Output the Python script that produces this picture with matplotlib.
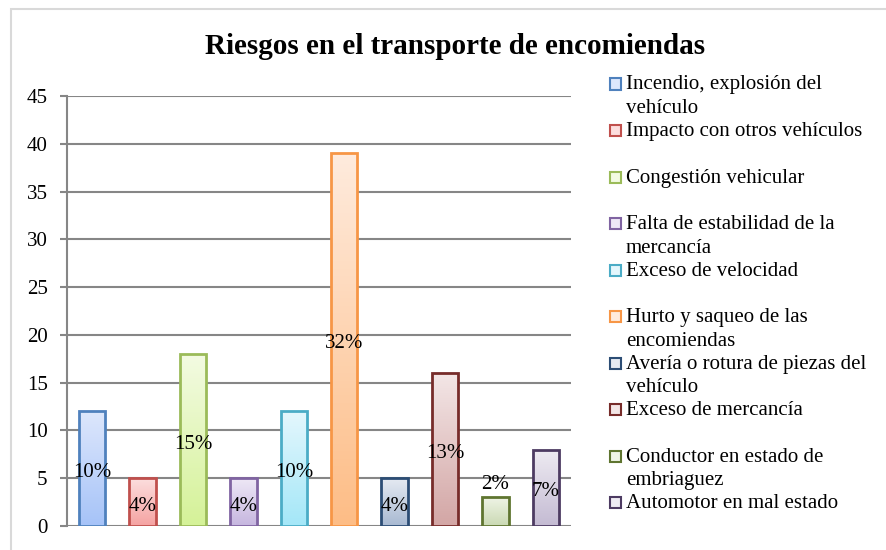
import numpy as np
import matplotlib
matplotlib.use("Agg")
import matplotlib.pyplot as plt
from matplotlib.patches import Rectangle
from matplotlib.colors import LinearSegmentedColormap

# data
categories = [
    "Incendio, explosión del\nvehículo",
    "Impacto con otros vehículos",
    "Congestión vehicular",
    "Falta de estabilidad de la\nmercancía",
    "Exceso de velocidad",
    "Hurto y saqueo de las\nencomiendas",
    "Avería o rotura de piezas del\nvehículo",
    "Exceso de mercancía",
    "Conductor en estado de\nembriaguez",
    "Automotor en mal estado",
]
values = [12, 5, 18, 5, 12, 39, 5, 16, 3, 8]
pct_labels = ["10%", "4%", "15%", "4%", "10%", "32%", "4%", "13%", "2%", "7%"]

edge_colors = ["#4F81BD", "#C0504D", "#9BBB59", "#8064A2", "#4BACC6",
               "#F79646", "#2C4D75", "#772C2A", "#5F7530", "#4D3B62"]
top_colors = ["#DDE7FC", "#FCDEDE", "#F3FBE2", "#EEE8F6", "#E4F7FD",
              "#FFEBDD", "#E5EAF2", "#F3E6E6", "#EFF4E6", "#EEEBF2"]
bot_colors = ["#A6C3F8", "#F5A3A2", "#D5F298", "#C6B6DF", "#A4E7F8",
              "#FDBD86", "#A8B9D2", "#D3A6A5", "#CAD9B3", "#C4BBD3"]

plt.rcParams["font.family"] = ["Liberation Serif", "DejaVu Serif"]

W, H = 886, 550
fig = plt.figure(figsize=(W / 100, H / 100), dpi=100)

# chart border
fig.patches.append(Rectangle((11 / W, -0.05), 1.0, 1 - 9 / H + 0.05,
                             transform=fig.transFigure, fill=False,
                             edgecolor="#D9D9D9", linewidth=1.5))

ax = fig.add_axes([67 / W, 1 - 526 / H, (571 - 67) / W, (526 - 96) / H])
x = np.arange(len(values))
bars = ax.bar(x, values, width=0.52, color="none", edgecolor="none", zorder=3)

for i, b in enumerate(bars):
    cmap = LinearSegmentedColormap.from_list("g%d" % i, [bot_colors[i], top_colors[i]])
    grad = np.linspace(0, 1, 100).reshape(-1, 1)
    bx, by = b.get_x(), b.get_y()
    bw, bh = b.get_width(), b.get_height()
    im = ax.imshow(grad, cmap=cmap, origin="lower", aspect="auto",
                   extent=[bx, bx + bw, by, by + bh], zorder=3)
    im.set_clip_path(b)
    ax.add_patch(Rectangle((bx, by), bw, bh, fill=False,
                           edgecolor=edge_colors[i], linewidth=2, zorder=4))
    if values[i] >= 5:
        ypos, dy = values[i] / 2, -3
    else:
        # too short: label sits just above the bar
        ypos, dy = values[i], 9
    ax.annotate(pct_labels[i], (x[i], ypos), xytext=(0, dy),
                textcoords="offset points", ha="center", va="center",
                fontsize=15, zorder=5)

ax.set_xlim(-0.5, len(values) - 0.5)
ax.set_ylim(0, 45)
ax.set_yticks(np.arange(0, 46, 5))
ax.set_xticks([])
ax.grid(axis="y", color="#868686", linewidth=1.5, zorder=0)
ax.set_axisbelow(True)
for s in ["top", "right", "bottom"]:
    ax.spines[s].set_visible(False)
ax.spines["left"].set_color("#868686")
ax.spines["left"].set_linewidth(1.5)
ax.tick_params(axis="y", length=5, width=1.5, color="#868686",
               labelsize=15, pad=9)

fig.text(455 / W, 1 - 47 / H, "Riesgos en el transporte de encomiendas",
         ha="center", va="center", fontsize=21, fontweight="bold")

# legend
for i, lab in enumerate(categories):
    base = 89.5 + 46.5 * i
    fig.patches.append(Rectangle((610 / W, 1 - base / H), 11 / W, 11 / H,
                                 transform=fig.transFigure,
                                 facecolor=top_colors[i],
                                 edgecolor=edge_colors[i], linewidth=1.5))
    for j, line in enumerate(lab.split("\n")):
        fig.text(626 / W, 1 - (base + 24 * j) / H, line, ha="left",
                 va="baseline", fontsize=15)

fig.savefig("out.png", dpi=100)
